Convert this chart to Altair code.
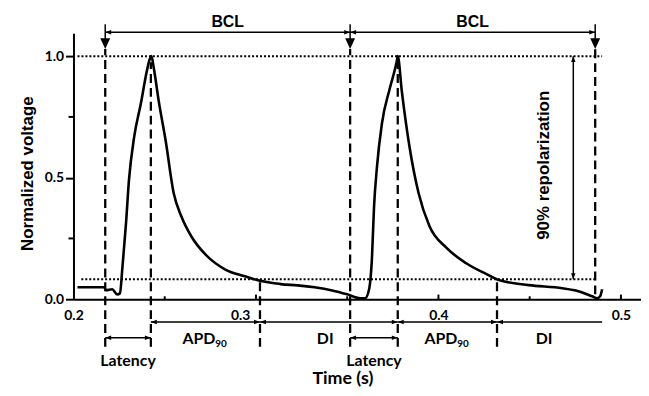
import altair as alt
import pandas as pd

# ---- voltage trace ----
time_s = [0.2022, 0.2168, 0.2179, 0.2212, 0.2239, 0.2255, 0.2266, 0.2288, 0.2304, 0.2332,
          0.2370, 0.2402, 0.2418, 0.2427, 0.2440, 0.2467, 0.2505, 0.2549, 0.2592, 0.2647,
          0.2723, 0.2832, 0.2940, 0.3011, 0.3109, 0.3136, 0.3228, 0.3321, 0.3418, 0.3500,
          0.3571, 0.3598, 0.3620, 0.3636, 0.3647, 0.3663, 0.3690, 0.3734, 0.3772, 0.3777,
          0.3799, 0.3842, 0.3891, 0.3951, 0.4043, 0.4152, 0.4261, 0.4326, 0.4495, 0.4679,
          0.4766, 0.4842, 0.4870, 0.4886, 0.4897]
voltage = [0.049, 0.049, 0.037, 0.041, 0.020, 0.024, 0.110, 0.314, 0.490, 0.665,
           0.808, 0.939, 0.988, 1.000, 0.951, 0.816, 0.653, 0.437, 0.339, 0.257,
           0.184, 0.122, 0.094, 0.078, 0.065, 0.062, 0.057, 0.049, 0.036, 0.020,
           0.004, 0.004, 0.041, 0.176, 0.380, 0.543, 0.722, 0.869, 0.980, 1.000,
           0.857, 0.624, 0.437, 0.300, 0.212, 0.148, 0.104, 0.080, 0.058, 0.045,
           0.033, 0.012, 0.004, 0.012, 0.041]

# ---- axis ticks ----
x_major = [0.2, 0.3, 0.4, 0.5]
x_minor = [0.25, 0.35, 0.45]
y_major = [0.0, 0.5, 1.0]
y_minor = [0.25, 0.75]

# ---- annotation times ----
stim_t = [0.2174, 0.3516, 0.4859]
peak_t = [0.2424, 0.3777]
apd_end_t = [0.3022, 0.4321]
trace_end_t = 0.4897
repol_level = 0.082
repol_arrow_t = 0.4739

X0, X1 = 0.2, 0.511
XS = alt.Scale(domain=[X0, X1], nice=False, zero=False)
YS = alt.Scale(domain=[0, 1.094], nice=False, zero=False)
ARIAL = "Liberation Sans"
CAL = "Lato"

def X(f="t"):
    return alt.X(f"{f}:Q", scale=XS)

def Y(f="v"):
    return alt.Y(f"{f}:Q", scale=YS)

# main trace with axes
trace = alt.Chart(pd.DataFrame({"t": time_s, "v": voltage})).mark_line(
    color="black", strokeWidth=2.6, interpolate="monotone"
).encode(
    x=alt.X("t:Q", scale=XS, axis=alt.Axis(
        values=x_major, ticks=False, grid=False, format=".1f",
        labelFlush=False, labelOverlap=False, labelPadding=9,
        labelOffset=alt.condition("datum.value > 0.29 && datum.value < 0.31", alt.value(-16), alt.value(0)),
        labelFont=CAL, labelFontWeight="bold", labelFontSize=14, labelColor="black",
        domainColor="black", domainWidth=2,
        title="Time (s)", titleFont=CAL, titleFontWeight="bold", titleFontSize=18,
        titleColor="black", titleX=271, titleY=80, titleBaseline="middle", titleAlign="center")),
    y=alt.Y("v:Q", scale=YS, axis=alt.Axis(
        values=y_major, grid=False, format=".1f",
        labelFlush=False, labelOverlap=False, labelPadding=2,
        labelFont=CAL, labelFontWeight="bold", labelFontSize=14, labelColor="black",
        tickSize=8, tickWidth=2, tickColor="black", domainColor="black", domainWidth=2,
        title="Normalized voltage", titleFont=ARIAL, titleFontWeight="bold", titleFontSize=17,
        titleColor="black", titleX=-46, titleY=141, titleAngle=270,
        titleBaseline="middle", titleAlign="center")),
)

# x-axis inward ticks
xt = pd.DataFrame({"t": x_major[1:] + x_minor,
                   "v": [0.0] * (len(x_major) - 1 + len(x_minor)),
                   "v1": [0.019] * (len(x_major) - 1) + [0.012] * len(x_minor)})
xticks = alt.Chart(xt).mark_rule(color="black", strokeWidth=2).encode(x=X(), y=Y(), y2="v1")
# y-axis minor ticks (outward, shorter)
yt = pd.DataFrame({"v": y_minor, "t": [X0 - 5 / 1840] * 2, "t1": [X0] * 2})
yticks = alt.Chart(yt).mark_rule(color="black", strokeWidth=2).encode(x=X(), x2="t1", y=Y())

# dotted horizontal lines (peak and 90% repolarization level)
dots = pd.DataFrame({"t": [0.2022, 0.2043], "t1": [trace_end_t, stim_t[2]], "v": [1.0, repol_level]})
dotted = alt.Chart(dots).mark_rule(color="black", strokeWidth=2, strokeDash=[2, 2]).encode(
    x=X(), x2="t1", y=Y())

# dashed verticals
dv = pd.DataFrame({
    "t": stim_t + peak_t + apd_end_t,
    "v": [-0.196, -0.196, 0.02] + [-0.196, -0.196] + [-0.196, -0.196],
    "v1": [1.029] * 3 + [0.975, 0.975] + [repol_level, repol_level],
})
dashed = alt.Chart(dv).mark_rule(color="black", strokeWidth=2.3, strokeDash=[9, 5]).encode(
    x=X(), y=Y(), y2="v1")

# BCL arrows
bcl = pd.DataFrame({"t": stim_t[:-1], "t1": stim_t[1:], "v": [1.098, 1.098]})
bcl["mid"] = (bcl.t + bcl.t1) / 2
bcl["label"] = "BCL"
bcl_line = alt.Chart(bcl).mark_rule(color="black", strokeWidth=1.5).encode(x=X(), x2="t1", y=Y())
bcl_text = alt.Chart(bcl).mark_text(font=ARIAL, fontWeight="bold", fontSize=16, color="black",
                                    baseline="middle").encode(
    x=X("mid"), y=alt.value(-11), text="label:N")
bars = pd.DataFrame({"t": stim_t, "v": [1.053] * 3, "v1": [1.131] * 3})
bcl_bars = alt.Chart(bars).mark_rule(color="black", strokeWidth=1.5).encode(x=X(), y=Y(), y2="v1")
tri = pd.DataFrame({"t": stim_t, "v": [1.029] * 3})
bcl_tri = alt.Chart(tri).mark_point(shape="M0,0L-1,-2.2L1,-2.2Z", filled=True, size=100,
                                    color="black", opacity=1).encode(x=X(), y=Y())

# bottom dimension arrows
row1 = -0.094
row2 = -0.159
segs = pd.DataFrame({
    "t": [peak_t[0], apd_end_t[0], peak_t[1], apd_end_t[1], stim_t[0], stim_t[1]],
    "t1": [apd_end_t[0], peak_t[1], apd_end_t[1], trace_end_t, peak_t[0], peak_t[1]],
    "v": [row1] * 4 + [row2] * 2,
})
seg_lines = alt.Chart(segs).mark_rule(color="black", strokeWidth=1.5).encode(x=X(), x2="t1", y=Y())

LEFT = "M0,0L2,-0.75L2,0.75Z"
RIGHT = "M0,0L-2,-0.75L-2,0.75Z"
heads_l = pd.DataFrame({"t": [stim_t[0], stim_t[1], peak_t[0], apd_end_t[0], peak_t[1], apd_end_t[1],
                              stim_t[0], stim_t[1]],
                        "v": [1.098, 1.098, row1, row1, row1, row1, row2, row2]})
heads_r = pd.DataFrame({"t": [stim_t[1], stim_t[2], apd_end_t[0], peak_t[1], apd_end_t[1],
                              peak_t[0], peak_t[1]],
                        "v": [1.098, 1.098, row1, row1, row1, row2, row2]})
hl = alt.Chart(heads_l).mark_point(
    shape=LEFT, filled=True, size=36, color="black", opacity=1).encode(x=X(), y=Y())
hr = alt.Chart(heads_r).mark_point(
    shape=RIGHT, filled=True, size=36, color="black", opacity=1).encode(x=X(), y=Y())

# labels
apd = pd.DataFrame({"t": [(peak_t[i] + apd_end_t[i]) / 2 for i in range(2)], "v": [-0.163, -0.163]})
apd_main = alt.Chart(apd).mark_text(text="APD", align="right", dx=10, baseline="middle",
                                    font=CAL, fontWeight="bold", fontSize=16, color="black").encode(
    x=X(), y=Y())
apd_sub = alt.Chart(apd).mark_text(text="90", align="left", dx=10, dy=5, baseline="middle",
                                   font=CAL, fontWeight="bold", fontSize=10, color="black").encode(
    x=X(), y=Y())
di = pd.DataFrame({"t": [(apd_end_t[0] + peak_t[1]) / 2 - 0.002, (apd_end_t[1] + trace_end_t) / 2 - 0.003],
                   "v": [-0.163, -0.163], "label": ["DI", "DI"]})
di_text = alt.Chart(di).mark_text(baseline="middle", font=CAL, fontWeight="bold", fontSize=16,
                                  color="black").encode(x=X(), y=Y(), text="label:N")
lat = pd.DataFrame({"t": [(stim_t[i] + peak_t[i]) / 2 for i in range(2)], "v": [-0.253, -0.253],
                    "label": ["Latency", "Latency"]})
lat_text = alt.Chart(lat).mark_text(baseline="middle", font=CAL, fontWeight="bold", fontSize=16,
                                    color="black").encode(x=X(), y=Y(), text="label:N")

# 90% repolarization arrow
rep = pd.DataFrame({"t": [repol_arrow_t], "v": [repol_level], "v1": [1.0]})
rep_line = alt.Chart(rep).mark_rule(color="black", strokeWidth=1.5).encode(x=X(), y=Y(), y2="v1")
rep_up = alt.Chart(rep).mark_point(shape="M0,0L-0.75,2L0.75,2Z", filled=True, size=36,
                                   color="black", opacity=1).encode(x=X(), y=Y("v1"))
rep_dn = alt.Chart(rep).mark_point(shape="M0,0L-0.75,-2L0.75,-2Z", filled=True, size=36,
                                   color="black", opacity=1).encode(x=X(), y=Y())
rep_txt = alt.Chart(pd.DataFrame({"t": [0.4576], "v": [0.551], "label": ["90% repolarization"]})).mark_text(
    angle=270, baseline="middle", align="center", font=ARIAL, fontWeight="bold", fontSize=17,
    color="black").encode(x=X(), y=Y(), text="label:N")

chart = alt.layer(
    trace, dotted, dashed, xticks, yticks, bcl_line, bcl_bars, bcl_tri, bcl_text,
    seg_lines, hl, hr, apd_main, apd_sub, di_text, lat_text,
    rep_line, rep_up, rep_dn, rep_txt
).properties(
    width=572, height=268,
    padding={"left": 66, "top": 24, "right": 0, "bottom": 88},
    autosize=alt.AutoSizeParams(type="none"),
    background="white",
).configure_view(stroke=None)

chart.save("out.html", embed_options={"renderer": "svg", "actions": False})
